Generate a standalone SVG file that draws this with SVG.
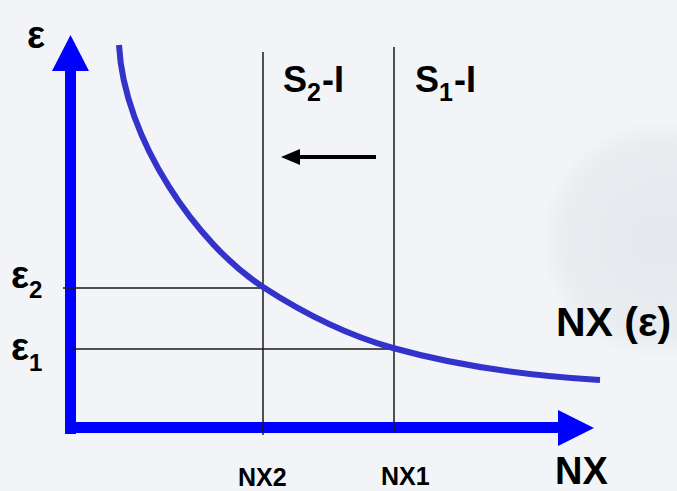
<svg xmlns="http://www.w3.org/2000/svg" width="677" height="491" viewBox="0 0 677 491">
<defs>
<radialGradient id="bgc" cx="0.5" cy="0.5" r="0.5">
  <stop offset="0" stop-color="#dfe2e7"/>
  <stop offset="0.8" stop-color="#e6e9ed"/>
  <stop offset="1" stop-color="#f2f4f7"/>
</radialGradient>
</defs>
<style>
text{font-family:"Liberation Sans",Arial,sans-serif;font-weight:bold;fill:#000}
.axis{fill:#0000ff}
.guide{stroke:#1a1a1a;stroke-width:1.5;fill:none}
.curve{stroke:#3333cc;stroke-width:6;fill:none;stroke-linecap:butt}
</style>
<rect width="677" height="491" fill="#f2f4f7"/>
<circle cx="660" cy="240" r="120" fill="url(#bgc)" opacity="0.7"/>
<g id="axes">
  <rect class="axis" x="65" y="70" width="11" height="364"/>
  <polygon class="axis" points="70.5,35 52,71 89,71"/>
  <rect class="axis" x="65" y="422" width="495" height="11"/>
  <polygon class="axis" points="594,428 558,410 558,446"/>
</g>
<g id="connectors">
  <line class="guide" x1="263" y1="52" x2="263" y2="435"/>
  <line class="guide" x1="394" y1="47" x2="394" y2="432"/>
  <line class="guide" x1="63" y1="288" x2="263" y2="288"/>
  <line class="guide" x1="72" y1="349" x2="394" y2="349"/>
  <line x1="298" y1="157" x2="376" y2="157" stroke="#000" stroke-width="4"/>
  <polygon points="281,157 300,149 300,165" fill="#000"/>
</g>
<g id="curve">
  <path class="curve" d="M119,45 C124,140 198,245 263,287 C303,313 346.8,335.1 393,348 C460.4,366.9 530.1,375.8 600,380"/>
</g>
<g id="labels">
  <text x="27" y="48" font-size="38">ε</text>
  <text x="11" y="288" font-size="38">ε<tspan font-size="24" dy="10">2</tspan></text>
  <text x="11" y="360" font-size="38">ε<tspan font-size="24" dy="11">1</tspan></text>
  <text x="283" y="92" font-size="36">S<tspan font-size="25" dy="9">2</tspan><tspan dy="-9" dx="1">-I</tspan></text>
  <text x="415" y="92" font-size="36">S<tspan font-size="25" dy="9">1</tspan><tspan dy="-9" dx="1">-I</tspan></text>
  <text x="556" y="336" font-size="41">NX (ε)</text>
  <text x="555" y="484" font-size="38">NX</text>
  <text x="238" y="486" font-size="25">NX2</text>
  <text x="381" y="485" font-size="25">NX1</text>
</g>
</svg>
